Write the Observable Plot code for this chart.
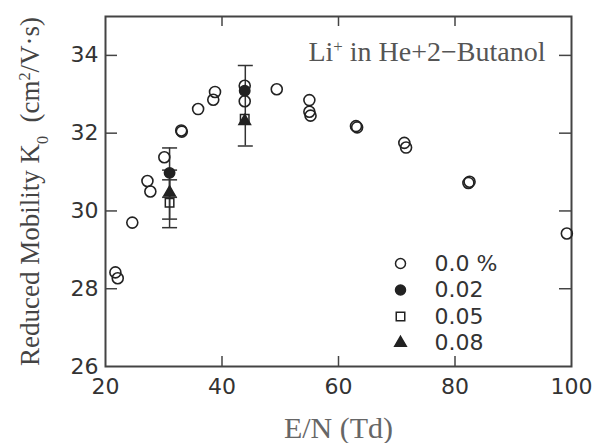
<!DOCTYPE html>
<html><head><meta charset="utf-8">
<script src="https://cdn.jsdelivr.net/npm/d3@7"></script>
<script src="https://cdn.jsdelivr.net/npm/@observablehq/plot@0.6"></script>
<style>body{margin:0;background:#fff;} #chart svg{display:block;}</style>
</head><body><div id="chart"></div>
<script>
// ---- data ----
const pureEN = [21.7, 22.1, 24.6, 27.2, 27.7, 30.1, 33.0, 33.1, 35.9, 38.5, 38.8, 43.9, 43.9, 49.4, 55.0, 55.0, 55.2, 63.0, 63.2, 71.3, 71.6, 82.3, 82.5, 99.2];
const pureK0 = [28.42, 28.27, 29.70, 30.77, 30.50, 31.38, 32.07, 32.04, 32.62, 32.86, 33.06, 33.22, 32.82, 33.13, 32.85, 32.55, 32.45, 32.18, 32.15, 31.75, 31.63, 30.72, 30.75, 29.42];
const dopedEN = [31.0, 43.9];
const k0_002 = [30.98, 33.09];
const k0_005 = [30.21, 32.37];
const k0_008 = [30.47, 32.31];
const errEN = [31.0, 31.0, 31.0, 44.0];
const errLow = [30.35, 29.79, 29.57, 31.67];
const errHigh = [31.62, 31.05, 30.80, 33.74];
const legendLabels = ["0.0 %", "0.02", "0.05", "0.08"];
const xTicks = [20, 40, 60, 80, 100];
const yTicks = [26, 28, 30, 32, 34];

// ---- layout ----
const W = 595, H = 443, mL = 105, mR = 24, mT = 16, mB = 77;
const pw = W - mL - mR, ph = H - mT - mB;
const ink = "#222";
const pure = pureEN.map((x, i) => ({x, y: pureK0[i]}));
const mk = arr => dopedEN.map((x, i) => ({x, y: arr[i]}));
const errs = errEN.map((x, i) => ({x, lo: errLow[i], hi: errHigh[i]}));
const capSymbol = {draw(ctx) { ctx.moveTo(-7.5, 0); ctx.lineTo(7.5, 0); }};

const legendStyles = [
  {symbol: "circle", fill: "white", stroke: ink, r: 5},
  {symbol: "circle", fill: ink, stroke: ink, r: 5},
  {symbol: "square", fill: "white", stroke: ink, r: 4.8},
  {symbol: "triangle", fill: ink, stroke: ink, r: 4.3}
];
const legendMarks = legendLabels.flatMap((lab, i) => [
  Plot.dot([0], {frameAnchor: "top-left", dx: 295, dy: 247 + 26.5 * i, strokeWidth: 1.5, ...legendStyles[i]}),
  Plot.text([lab], {frameAnchor: "top-left", dx: 329, dy: 247 + 26.5 * i, textAnchor: "start", lineAnchor: "middle", fontSize: 22, fontFamily: "DejaVu Sans", fill: "#333"})
]);

const chart = Plot.plot({
  width: W, height: H,
  marginLeft: mL, marginRight: mR, marginTop: mT, marginBottom: mB,
  style: {fontFamily: "DejaVu Sans", color: "#333", background: "white"},
  x: {domain: [20, 100]},
  y: {domain: [26, 35]},
  marks: [
    Plot.frame({stroke: "#444", strokeWidth: 2}),
    // inward ticks on all four sides
    Plot.tickX(xTicks.slice(1, -1), {x: d => d, insetTop: ph - 10, stroke: "#444", strokeWidth: 1.5}),
    Plot.tickX(xTicks.slice(1, -1), {x: d => d, insetBottom: ph - 10, stroke: "#444", strokeWidth: 1.5}),
    Plot.tickY(yTicks.slice(1), {y: d => d, insetRight: pw - 12, stroke: "#444", strokeWidth: 1.5}),
    Plot.tickY(yTicks.slice(1), {y: d => d, insetLeft: pw - 12, stroke: "#444", strokeWidth: 1.5}),
    Plot.axisX(xTicks, {tickSize: 0, tickPadding: 12, fontSize: 22, label: null, fill: "#333"}),
    Plot.axisY(yTicks, {tickSize: 0, tickPadding: 7, fontSize: 22, label: null, fill: "#333"}),
    // error bars
    Plot.ruleX(errs, {x: "x", y1: "lo", y2: "hi", stroke: "#333", strokeWidth: 1.5}),
    Plot.dot(errs, {x: "x", y: "lo", symbol: capSymbol, stroke: "#333", strokeWidth: 1.5, fill: "none"}),
    Plot.dot(errs, {x: "x", y: "hi", symbol: capSymbol, stroke: "#333", strokeWidth: 1.5, fill: "none"}),
    // data
    Plot.dot(pure, {x: "x", y: "y", r: 5.5, stroke: ink, strokeWidth: 1.6, fill: "none"}),
    Plot.dot(mk(k0_005), {x: "x", y: "y", symbol: "square", r: 4.8, stroke: ink, strokeWidth: 1.5, fill: "none"}),
    Plot.dot(mk(k0_008), {x: "x", y: "y", symbol: "triangle", r: 4.3, stroke: ink, fill: ink}),
    Plot.dot(mk(k0_002), {x: "x", y: "y", r: 5.2, stroke: ink, fill: ink}),
    ...legendMarks,
    // annotation & axis titles
    Plot.text(["ANNOT"], {frameAnchor: "top-right", dx: -26, dy: 36, textAnchor: "end", lineAnchor: "middle", fontSize: 28, fontFamily: "Liberation Serif", fill: "#555"}),
    Plot.text(["YTITLE"], {frameAnchor: "left", dx: -75, rotate: -90, textAnchor: "middle", lineAnchor: "middle", fontSize: 27, fontFamily: "Liberation Serif", fill: "#444"}),
    Plot.text(["E/N (Td)"], {frameAnchor: "bottom", dy: 62, textAnchor: "middle", lineAnchor: "middle", fontSize: 30, fontFamily: "Liberation Serif", fill: "#666"})
  ]
});
document.getElementById("chart").appendChild(chart);

// rich text (super/subscripts) as real tspans
function rich(placeholder, parts) {
  const t = Array.from(chart.querySelectorAll("text")).find(n => n.textContent === placeholder);
  if (!t) return;
  t.textContent = "";
  for (const [s, kind] of parts) {
    const ts = document.createElementNS("http://www.w3.org/2000/svg", "tspan");
    ts.textContent = s;
    if (kind === "sup") { ts.setAttribute("baseline-shift", "super"); ts.setAttribute("font-size", "60%"); }
    if (kind === "sub") { ts.setAttribute("baseline-shift", "sub"); ts.setAttribute("font-size", "60%"); }
    t.appendChild(ts);
  }
}
rich("ANNOT", [["Li"], ["+", "sup"], [" in He+2\u2212Butanol"]]);
rich("YTITLE", [["Reduced Mobility K"], ["0", "sub"], ["  (cm"], ["2", "sup"], ["/V\u00b7s)"]]);
</script>
</body></html>
